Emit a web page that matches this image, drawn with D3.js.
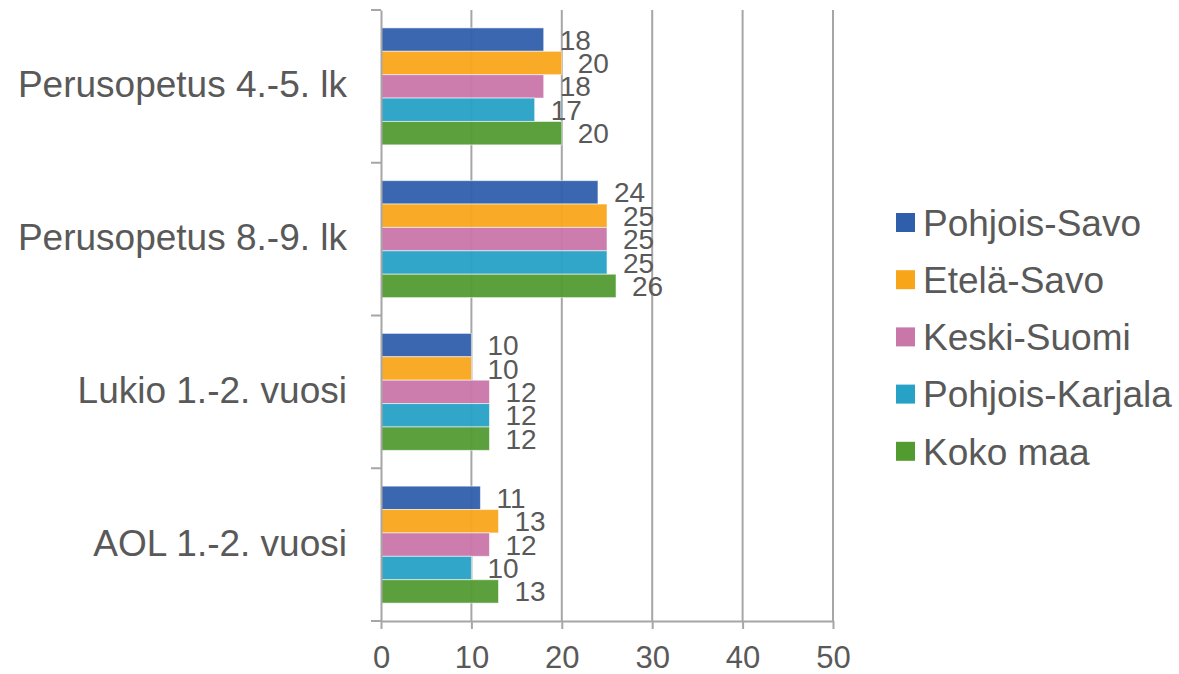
<!DOCTYPE html>
<html>
<head>
<meta charset="utf-8">
<script src="https://cdn.jsdelivr.net/npm/d3@7"></script>
<style>
  html, body { margin: 0; padding: 0; background: #fff; }
  svg { display: block; font-family: "Liberation Sans", Arial, sans-serif; }
</style>
</head>
<body>
<svg id="chart" width="1179" height="674"></svg>
<script>
const categories = ["Perusopetus 4.-5. lk", "Perusopetus 8.-9. lk", "Lukio 1.-2. vuosi", "AOL 1.-2. vuosi"];
const seriesNames = ["Pohjois-Savo", "Etelä-Savo", "Keski-Suomi", "Pohjois-Karjala", "Koko maa"];
const seriesColors = ["#2F5FAB", "#F9A51A", "#C976A9", "#27A1C5", "#529B31"];
const pohjoisSavo = [18, 24, 10, 11];
const etelaSavo = [20, 25, 10, 13];
const keskiSuomi = [18, 25, 12, 12];
const pohjoisKarjala = [17, 25, 12, 10];
const kokoMaa = [20, 26, 12, 13];
const xTicks = [0, 10, 20, 30, 40, 50];

const seriesValues = [pohjoisSavo, etelaSavo, keskiSuomi, pohjoisKarjala, kokoMaa];

const svg = d3.select("#chart");
const textColor = "#595959";
const gridColor = "#A6A6A6";

const x = d3.scaleLinear().domain([0, 50]).range([381, 833]);
const y = d3.scaleBand().domain(categories).range([10, 621]).paddingInner(0).paddingOuter(0);
const yInner = d3.scaleBand().domain(seriesNames).range([0, y.bandwidth()]).paddingInner(0).paddingOuter(0.765);

// gridlines
svg.append("g")
  .selectAll("line")
  .data(xTicks.filter(d => d > 0))
  .join("line")
  .attr("x1", d => x(d)).attr("x2", d => x(d))
  .attr("y1", 10).attr("y2", 621)
  .attr("stroke", gridColor).attr("stroke-width", 2);

// bars
const groups = svg.append("g").selectAll("g")
  .data(categories)
  .join("g")
  .attr("transform", c => `translate(0,${y(c)})`);

groups.each(function(c, ci) {
  const g = d3.select(this);
  seriesNames.forEach((s, si) => {
    const v = seriesValues[si][ci];
    g.append("rect")
      .attr("x", x(0))
      .attr("y", yInner(s))
      .attr("width", x(v) - x(0))
      .attr("height", yInner.bandwidth())
      .attr("fill", seriesColors[si])
      .attr("fill-opacity", 0.95)
      .attr("stroke", "#ffffff")
      .attr("stroke-opacity", 0.55)
      .attr("stroke-width", 1);
    g.append("text")
      .attr("x", x(v) + 16)
      .attr("y", yInner(s) + yInner.bandwidth() / 2)
      .attr("dy", "0.36em")
      .attr("fill", textColor)
      .attr("font-size", 28)
      .text(v);
  });
});

// y axis
const yAxisG = svg.append("g").attr("transform", `translate(${x(0)},0)`);
yAxisG.call(d3.axisLeft(y).tickSize(0).tickFormat(""));
yAxisG.select(".domain").attr("stroke", gridColor).attr("stroke-width", 2);
// category boundary ticks
const boundaries = categories.map(c => y(c)).concat([y.range()[1]]);
yAxisG.selectAll(".bt").data(boundaries).join("line")
  .attr("class", "bt")
  .attr("x1", -10).attr("x2", 0)
  .attr("y1", d => d).attr("y2", d => d)
  .attr("stroke", gridColor).attr("stroke-width", 2);
// category labels
yAxisG.selectAll(".cl").data(categories).join("text")
  .attr("class", "cl")
  .attr("x", -34)
  .attr("y", c => y(c) + y.bandwidth() / 2)
  .attr("dy", "0.3em")
  .attr("text-anchor", "end")
  .attr("fill", textColor)
  .attr("font-size", 37)
  .text(c => c);

// x axis
const xAxisG = svg.append("g").attr("transform", "translate(0,621)")
  .call(d3.axisBottom(x).tickValues(xTicks).tickSize(8).tickSizeOuter(0).tickPadding(17));
xAxisG.select(".domain").attr("stroke", gridColor).attr("stroke-width", 2);
xAxisG.selectAll(".tick line").attr("stroke", gridColor).attr("stroke-width", 2);
xAxisG.selectAll(".tick text")
  .attr("fill", textColor)
  .attr("font-size", 31)
  .attr("font-family", "Liberation Sans, Arial, sans-serif");

// legend
const legend = svg.append("g").attr("transform", "translate(896,213)");
const rowH = 57.2;
seriesNames.forEach((s, i) => {
  const r = legend.append("g").attr("transform", `translate(0,${i * rowH})`);
  r.append("rect").attr("x", 0).attr("y", 0).attr("width", 19).attr("height", 19).attr("fill", seriesColors[i]);
  r.append("text")
    .attr("x", 27)
    .attr("y", 9.5)
    .attr("dy", "0.36em")
    .attr("fill", textColor)
    .attr("font-size", 37)
    .text(s);
});
</script>
</body>
</html>
